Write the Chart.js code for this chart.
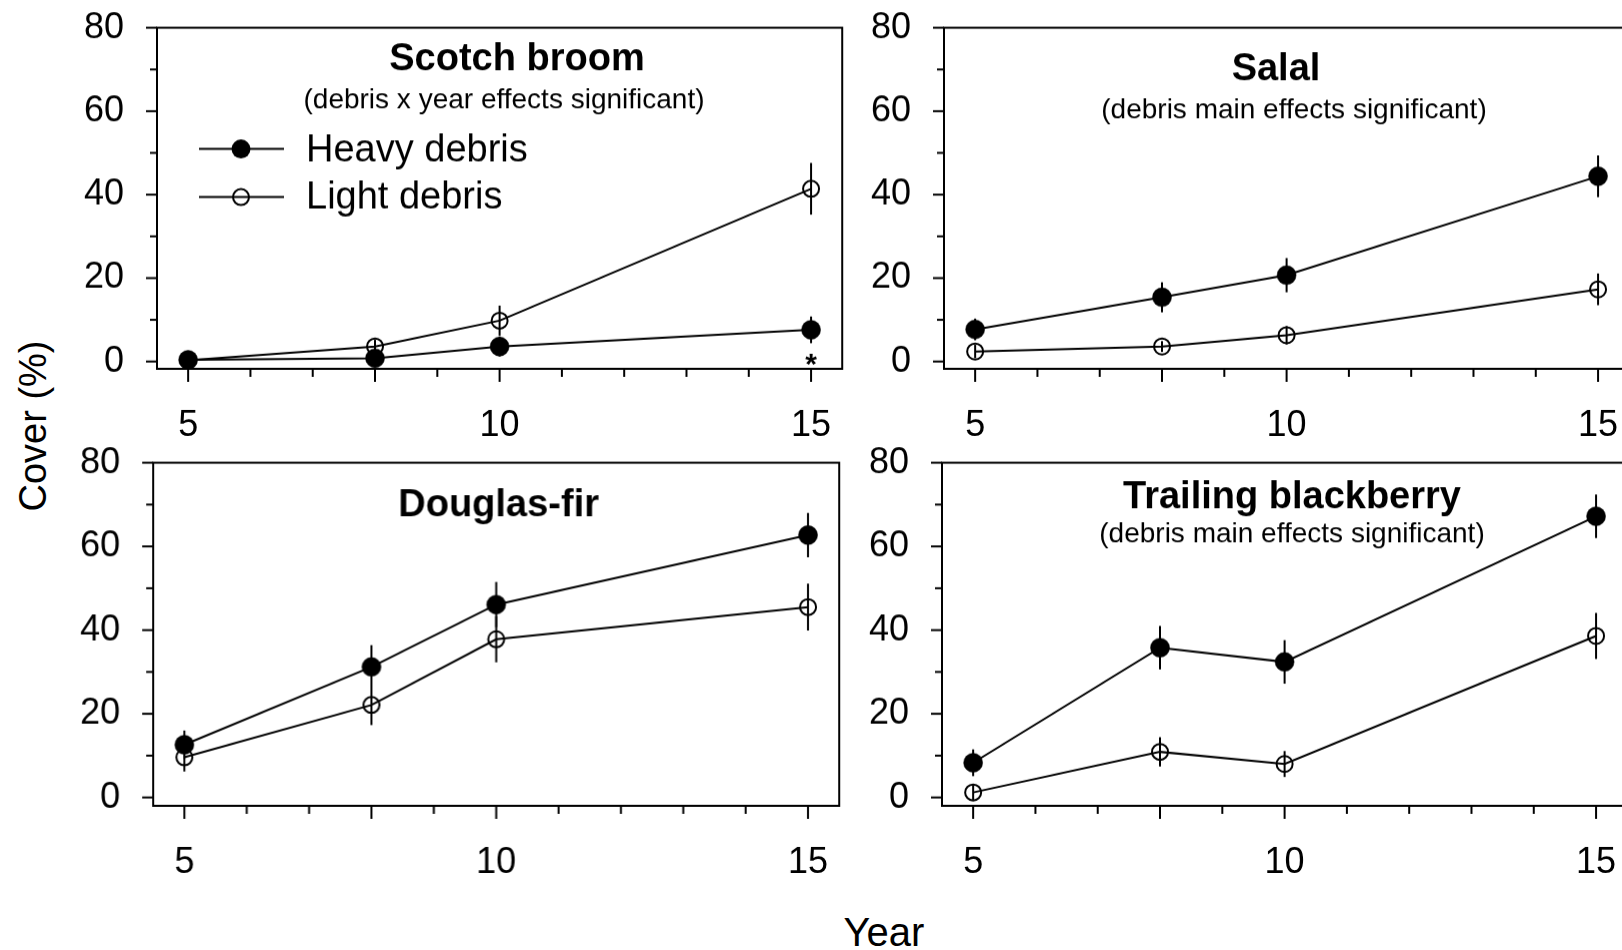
<!DOCTYPE html>
<html><head><meta charset="utf-8">
<script src="https://cdn.jsdelivr.net/npm/chart.js@4.4.1/dist/chart.umd.min.js"></script>
<style>
html,body{margin:0;padding:0;background:#fff;overflow:hidden;width:1622px;height:950px;position:relative;font-family:'Liberation Sans',Arial,sans-serif;}
canvas{position:absolute;}
.lbl{position:absolute;color:#000;white-space:nowrap;line-height:1;}
</style></head><body>
<div class="lbl" id="ytitle" style="left:33px;top:426px;font-size:38px;transform:translate(-50%,-50%) rotate(-90deg);">Cover (%)</div>
<div class="lbl" id="xtitle" style="left:884px;top:932px;font-size:40px;transform:translate(-50%,-50%);">Year</div>
<canvas id="c0"></canvas>
<canvas id="c1"></canvas>
<canvas id="c2"></canvas>
<canvas id="c3"></canvas>
<script>
// ---------------- DATA ----------------
const years = [5, 8, 10, 15];
const xTickValues = [5, 6, 7, 8, 9, 10, 11, 12, 13, 14, 15];
const xLabelValues = [5, 10, 15];
const yTickValues = [0, 10, 20, 30, 40, 50, 60, 70, 80];
const yLabelValues = [0, 20, 40, 60, 80];
const seriesNames = ['Heavy debris', 'Light debris'];
const panelTitles = ['Scotch broom', 'Salal', 'Douglas-fir', 'Trailing blackberry'];
const panelSubtitles = ['(debris x year effects significant)', '(debris main effects significant)', '', '(debris main effects significant)'];

const broomHeavy    = [0.4, 0.8, 3.6, 7.6];
const broomHeavyErr = [0.5, 0.6, 2.4, 3.2];
const broomLight    = [0.3, 3.6, 9.8, 41.4];
const broomLightErr = [0.4, 1.6, 3.6, 6.2];

const salalHeavy    = [7.7, 15.4, 20.7, 44.4];
const salalHeavyErr = [2.6, 3.6, 4.1, 5.0];
const salalLight    = [2.4, 3.6, 6.3, 17.3];
const salalLightErr = [1.6, 1.3, 2.2, 3.8];

const firHeavy    = [12.6, 31.2, 46.1, 62.7];
const firHeavyErr = [3.4, 5.2, 5.4, 5.3];
const firLight    = [9.6, 22.1, 37.8, 45.5];
const firLightErr = [3.4, 4.8, 5.5, 5.6];

const berryHeavy    = [8.3, 35.8, 32.4, 67.2];
const berryHeavyErr = [3.2, 5.2, 5.2, 5.2];
const berryLight    = [1.2, 10.9, 8.0, 38.6];
const berryLightErr = [1.8, 3.5, 3.1, 5.5];

const broomSigYears = [15];
const sigMark = '*';

// ---------------- LAYOUT ----------------
const FONT = "'Liberation Sans', Arial, sans-serif";
Chart.defaults.font.family = FONT;
const YW = 150, XH = 90, PR = 20;
const majorXTicks = years;
const R_FILLED = 9.5, R_OPEN = 8, LW = 2;

const panels = [
  {idx:0, id:'c0', left:157, top:28, right:842, bottom:369, ymin:-1.75,
   heavy:broomHeavy, heavyErr:broomHeavyErr, light:broomLight, lightErr:broomLightErr,
   titleX:517, titleBase:70, subX:504, subBase:108, legend:true, sig:broomSigYears},
  {idx:1, id:'c1', left:944, top:28, right:1629, bottom:369, ymin:-1.75,
   heavy:salalHeavy, heavyErr:salalHeavyErr, light:salalLight, lightErr:salalLightErr,
   titleX:1276, titleBase:80, subX:1294, subBase:118},
  {idx:2, id:'c2', left:153, top:463, right:839, bottom:806, ymin:-2,
   heavy:firHeavy, heavyErr:firHeavyErr, light:firLight, lightErr:firLightErr,
   titleX:498, titleBase:516, subX:498, subBase:550},
  {idx:3, id:'c3', left:942, top:463, right:1627, bottom:806, ymin:-2,
   heavy:berryHeavy, heavyErr:berryHeavyErr, light:berryLight, lightErr:berryLightErr,
   titleX:1292, titleBase:508, subX:1292, subBase:542},
];

function drawMarker(ctx, x, y, filled) {
  ctx.beginPath();
  ctx.arc(x, y, filled ? R_FILLED : R_OPEN, 0, Math.PI * 2);
  if (filled) { ctx.fillStyle = '#000'; ctx.fill(); }
  else { ctx.lineWidth = LW; ctx.strokeStyle = '#000'; ctx.stroke(); }
}

const decor = {
  id: 'decor',
  beforeDatasetsDraw(chart) {
    const {ctx, scales: {x, y}} = chart;
    ctx.save();
    ctx.strokeStyle = '#000';
    ctx.lineWidth = LW;
    chart.data.datasets.forEach(ds => {
      ds.data.forEach((p, i) => {
        const e = ds.errors[i];
        const px = x.getPixelForValue(p.x);
        ctx.beginPath();
        ctx.moveTo(px, y.getPixelForValue(p.y - e));
        ctx.lineTo(px, y.getPixelForValue(p.y + e));
        ctx.stroke();
      });
    });
    ctx.restore();
  },
  afterDraw(chart) {
    const {ctx, chartArea: a, scales: {x, y}} = chart;
    const p = panels[chart.options.plugins.decor.idx];
    const ox = p.left - a.left, oy = p.top - a.top;   // page -> canvas offsets
    ctx.save();
    ctx.strokeStyle = '#000';
    ctx.lineWidth = 2;
    ctx.strokeRect(a.left, a.top, a.right - a.left, a.bottom - a.top);
    ctx.lineWidth = LW;
    x.ticks.forEach(t => {
      const px = x.getPixelForValue(t.value);
      const len = majorXTicks.includes(t.value) ? 13 : 8;
      ctx.beginPath(); ctx.moveTo(px, a.bottom); ctx.lineTo(px, a.bottom + len); ctx.stroke();
    });
    y.ticks.forEach(t => {
      const py = y.getPixelForValue(t.value);
      const len = yLabelValues.includes(t.value) ? 11 : 7;
      ctx.beginPath(); ctx.moveTo(a.left, py); ctx.lineTo(a.left - len, py); ctx.stroke();
    });
    ctx.fillStyle = '#000';
    ctx.textAlign = 'center';
    ctx.textBaseline = 'alphabetic';
    ctx.font = 'bold 38px ' + FONT;
    ctx.fillText(panelTitles[p.idx], p.titleX - ox, p.titleBase - oy);
    if (panelSubtitles[p.idx]) {
      ctx.font = '28px ' + FONT;
      ctx.fillText(panelSubtitles[p.idx], p.subX - ox, p.subBase - oy);
    }
    if (p.legend) {
      const rows = [{y:149, base:161.5, filled:true}, {y:197, base:208.5, filled:false}];
      rows.forEach((r, i) => {
        ctx.strokeStyle = '#000'; ctx.lineWidth = LW;
        ctx.beginPath(); ctx.moveTo(199 - ox, r.y - oy); ctx.lineTo(284 - ox, r.y - oy); ctx.stroke();
        drawMarker(ctx, 241 - ox, r.y - oy, r.filled);
        ctx.fillStyle = '#000';
        ctx.font = '38px ' + FONT; ctx.textAlign = 'left';
        ctx.fillText(seriesNames[i], 306 - ox, r.base - oy);
      });
    }
    if (p.sig) {
      ctx.font = 'bold 30px ' + FONT; ctx.textAlign = 'center';
      const m = ctx.measureText(sigMark);
      const cy = a.bottom - 9;
      const base = cy + (m.actualBoundingBoxAscent - m.actualBoundingBoxDescent) / 2;
      p.sig.forEach(v => ctx.fillText(sigMark, x.getPixelForValue(v), base));
    }
    ctx.restore();
  }
};

function buildConfig(p) {
  const mk = (vals, errs, name, filled) => ({
    label: name,
    data: years.map((yr, i) => ({x: yr, y: vals[i]})),
    errors: errs,
    borderColor: '#000', borderWidth: LW,
    pointRadius: filled ? R_FILLED : R_OPEN,
    pointHoverRadius: filled ? R_FILLED : R_OPEN,
    pointBackgroundColor: filled ? '#000' : 'rgba(0,0,0,0)',
    pointBorderColor: '#000',
    pointBorderWidth: filled ? 0.5 : LW,
    tension: 0, fill: false, clip: false
  });
  return {
    type: 'line',
    data: { datasets: [mk(p.heavy, p.heavyErr, seriesNames[0], true), mk(p.light, p.lightErr, seriesNames[1], false)] },
    options: {
      responsive: false, maintainAspectRatio: false, animation: false, events: [],
      layout: { padding: { top: 0, right: PR, left: 0, bottom: 0 } },
      plugins: { legend: { display: false }, tooltip: { enabled: false }, decor: { idx: p.idx } },
      scales: {
        x: {
          type: 'linear', min: 4.5, max: 15.5,
          afterBuildTicks: s => { s.ticks = xTickValues.map(v => ({value: v})); },
          afterFit: s => { s.height = XH; },
          grid: { display: false, drawTicks: false }, border: { display: false },
          ticks: { autoSkip: false, maxRotation: 0, padding: 35, color: '#000', font: { size: 36 },
                   callback: v => xLabelValues.includes(v) ? String(v) : '' }
        },
        y: {
          type: 'linear', min: p.ymin, max: 80,
          afterBuildTicks: s => { s.ticks = yTickValues.map(v => ({value: v})); },
          afterFit: s => { s.width = YW; },
          grid: { display: false, drawTicks: false }, border: { display: false },
          ticks: { autoSkip: false, padding: 33, color: '#000', font: { size: 36 },
                   callback: v => yLabelValues.includes(v) ? String(v) : '' }
        }
      }
    },
    plugins: [decor]
  };
}

panels.forEach(p => {
  const cv = document.getElementById(p.id);
  const cw = p.right - p.left, ch = p.bottom - p.top;
  let w = cw + YW + PR, h = ch + 30 + XH;
  cv.width = w; cv.height = h;
  let chart = new Chart(cv, buildConfig(p));
  let a = chart.chartArea;
  const dw = cw - (a.right - a.left), dh = ch - (a.bottom - a.top);
  if (Math.abs(dw) > 0.01 || Math.abs(dh) > 0.01) {
    chart.destroy();
    w += dw; h += dh;
    cv.width = w; cv.height = h;
    cv.style.width = w + 'px'; cv.style.height = h + 'px';
    chart = new Chart(cv, buildConfig(p));
    a = chart.chartArea;
  }
  cv.style.left = (p.left - a.left) + 'px';
  cv.style.top = (p.top - a.top) + 'px';
});
</script>
</body></html>
